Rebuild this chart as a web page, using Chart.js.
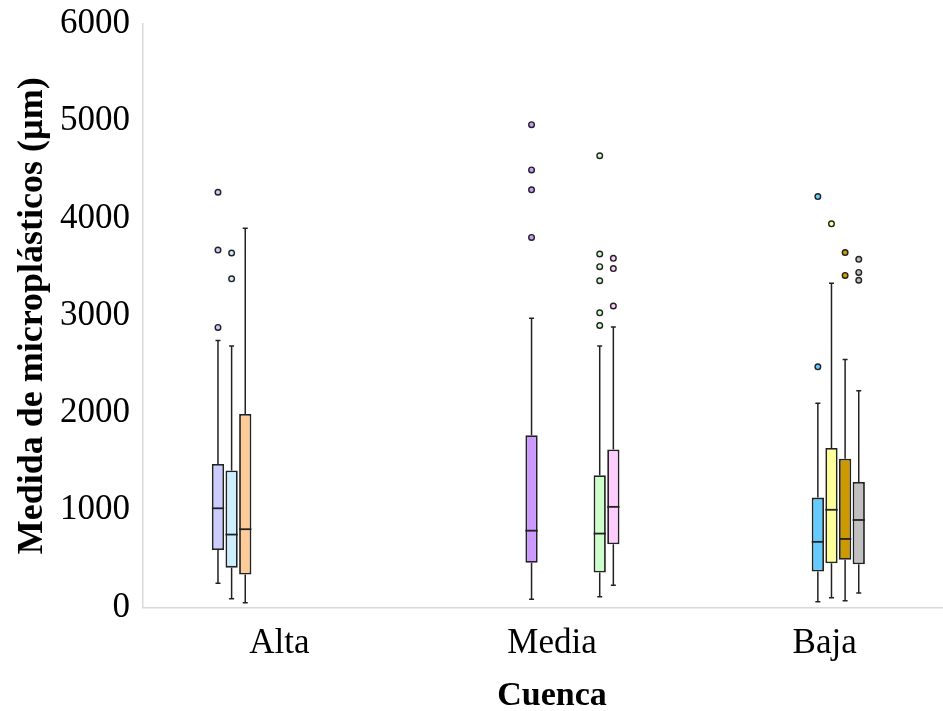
<!DOCTYPE html>
<html>
<head>
<meta charset="utf-8">
<script src="https://cdn.jsdelivr.net/npm/chart.js@4"></script>
<style>
	html, body { margin: 0; padding: 0; background: #fff; overflow: hidden; }
</style>
</head>
<body>
<canvas id="boxplot" width="961" height="711"></canvas>
<script>
const categories = ["Alta", "Media", "Baja"];
const yTicks = [0, 1000, 2000, 3000, 4000, 5000, 6000];

// one entry per series (10 series, grouped into slots within each cuenca)
const seriesCuenca = [0, 0, 0, 1, 2, 2, 2, 2, 1, 1];
const seriesColors = ["#ccccff", "#cceeff", "#ffcc99", "#cc99ff", "#66ccff", "#ffff99", "#cc9900", "#c0c0c0", "#ccffcc", "#ffccff"];
const whiskerLow = [250, 90, 50, 85, 60, 100, 70, 150, 110, 230];
const q1 = [590, 410, 340, 460, 370, 455, 490, 445, 360, 650];
const medians = [1020, 750, 805, 790, 675, 1005, 705, 900, 760, 1035];
const q3 = [1475, 1410, 1990, 1770, 1130, 1640, 1530, 1290, 1360, 1625];
const whiskerHigh = [2745, 2690, 3900, 2975, 2100, 3335, 2550, 2230, 2690, 2885];
const outliers = [
	[2880, 3675, 4270],
	[3380, 3645],
	[],
	[3805, 4295, 4500, 4965],
	[2475, 4225],
	[3945],
	[3415, 3650],
	[3365, 3445, 3580],
	[2900, 3030, 3360, 3505, 3635, 4645],
	[3100, 3485, 3590],
];

const lineColor = "#222222";

const datasets = seriesCuenca.map((cat, s) => ({
	data: categories.map((c, i) => (i === cat ? [q1[s], q3[s]] : null)),
	backgroundColor: seriesColors[s],
	borderColor: lineColor,
	borderWidth: 1.8,
	borderSkipped: false,
	categoryPercentage: 0.5,
	barPercentage: 0.9,
}));

// whiskers behind the boxes, medians and outliers on top
const boxParts = {
	id: "boxParts",
	beforeDatasetsDraw(chart) {
		const ctx = chart.ctx;
		const y = chart.scales.y;
		ctx.save();
		ctx.strokeStyle = lineColor;
		ctx.lineWidth = 1.5;
		seriesCuenca.forEach((cat, s) => {
			const bar = chart.getDatasetMeta(s).data[cat];
			if (!bar) return;
			const x = bar.x;
			ctx.beginPath();
			ctx.moveTo(x, y.getPixelForValue(whiskerLow[s]));
			ctx.lineTo(x, y.getPixelForValue(q1[s]));
			ctx.moveTo(x, y.getPixelForValue(q3[s]));
			ctx.lineTo(x, y.getPixelForValue(whiskerHigh[s]));
			ctx.moveTo(x - 2.5, y.getPixelForValue(whiskerLow[s]));
			ctx.lineTo(x + 2.5, y.getPixelForValue(whiskerLow[s]));
			ctx.moveTo(x - 2.5, y.getPixelForValue(whiskerHigh[s]));
			ctx.lineTo(x + 2.5, y.getPixelForValue(whiskerHigh[s]));
			ctx.stroke();
		});
		ctx.restore();
	},
	afterDatasetsDraw(chart) {
		const ctx = chart.ctx;
		const y = chart.scales.y;
		ctx.save();
		ctx.strokeStyle = lineColor;
		seriesCuenca.forEach((cat, s) => {
			const bar = chart.getDatasetMeta(s).data[cat];
			if (!bar) return;
			const x = bar.x;
			const half = bar.width / 2;
			const my = y.getPixelForValue(medians[s]);
			ctx.lineWidth = 1.8;
			ctx.beginPath();
			ctx.moveTo(x - half, my);
			ctx.lineTo(x + half, my);
			ctx.stroke();
			ctx.lineWidth = 1.4;
			ctx.fillStyle = seriesColors[s];
			outliers[s].forEach((v) => {
				ctx.beginPath();
				ctx.arc(x, y.getPixelForValue(v), 2.8, 0, Math.PI * 2);
				ctx.fill();
				ctx.stroke();
			});
		});
		ctx.restore();
	},
};

const boxplotElem = document.getElementById("boxplot");

const boxplot = new Chart(boxplotElem, {
	type: "bar",
	data: {
		labels: categories,
		datasets: datasets,
	},
	plugins: [boxParts],
	options: {
		responsive: false,
		animation: false,
		layout: {
			padding: { top: 24, right: 0, bottom: 0, left: 0 },
		},
		plugins: {
			legend: false,
			tooltip: { enabled: false },
		},
		scales: {
			x: {
				grid: { display: false },
				border: { display: true, color: "#d9d9d9", width: 1.5 },
				ticks: {
					color: "#000",
					padding: 7,
					font: { family: "Liberation Serif", size: 35 },
				},
				title: {
					display: true,
					text: "Cuenca",
					color: "#000",
					padding: 0,
					font: { family: "Liberation Serif", size: 34, weight: "bold", lineHeight: 0.85 },
				},
				afterFit: function (axis) {
					axis.height = 103.5;
				},
			},
			y: {
				min: 0,
				max: 6000,
				grid: { display: false },
				border: { display: true, color: "#d9d9d9", width: 1.5 },
				afterBuildTicks: function (axis) {
					axis.ticks = yTicks.map((v) => ({ value: v }));
				},
				ticks: {
					color: "#000",
					padding: 5,
					font: { family: "Liberation Serif", size: 35 },
					callback: function (value) {
						return String(value);
					},
				},
				title: {
					display: true,
					text: "Medida de microplásticos (µm)",
					color: "#000",
					padding: { top: 11, bottom: 0 },
					font: { family: "Liberation Serif", size: 36, weight: "bold", lineHeight: 1.2 },
				},
				afterFit: function (axis) {
					axis.width = 143;
					axis.paddingTop = 0;
				},
			},
		},
	},
});
</script>
</body>
</html>
